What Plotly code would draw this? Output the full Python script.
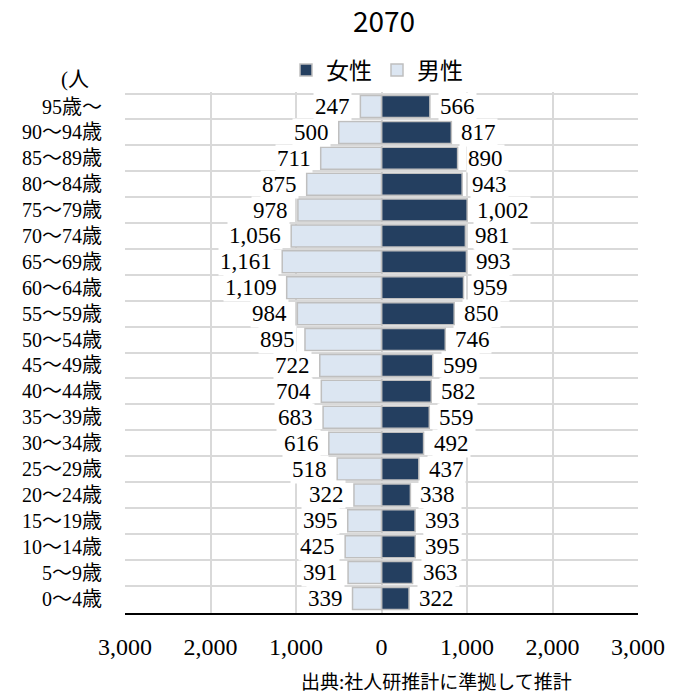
import plotly.graph_objects as go

ages = ["95歳～", "90～94歳", "85～89歳", "80～84歳", "75～79歳", "70～74歳",
        "65～69歳", "60～64歳", "55～59歳", "50～54歳", "45～49歳", "40～44歳",
        "35～39歳", "30～34歳", "25～29歳", "20～24歳", "15～19歳", "10～14歳",
        "5～9歳", "0～4歳"]
male = [247, 500, 711, 875, 978, 1056, 1161, 1109, 984, 895,
        722, 704, 683, 616, 518, 322, 395, 425, 391, 339]
female = [566, 817, 890, 943, 1002, 981, 993, 959, 850, 746,
          599, 582, 559, 492, 437, 338, 393, 395, 363, 322]
tick_vals = [-3000, -2000, -1000, 0, 1000, 2000, 3000]
tick_text = ["3,000", "2,000", "1,000", "0", "1,000", "2,000", "3,000"]

SERIF = "Liberation Serif, Noto Sans CJK JP, serif"
NUM = "Liberation Serif"
SANS = "Noto Sans CJK JP, sans-serif"
NARROW = "Liberation Sans Narrow, Noto Sans CJK JP, sans-serif"

fig = go.Figure()
fig.add_trace(go.Bar(
    y=ages, x=female, orientation="h", name="女性",
    marker=dict(color="#243F60", line=dict(color="#BFBFBF", width=1.5)),
))
fig.add_trace(go.Bar(
    y=ages, x=[-v for v in male], orientation="h", name="男性",
    marker=dict(color="#DCE6F2", line=dict(color="#BFBFBF", width=1.5)),
))

anns = []
for a, v in zip(ages, male):
    anns.append(dict(x=-v, y=a, xref="x", yref="y", text=f"{v:,}", showarrow=False,
                     xanchor="right", xshift=-8, bgcolor="white", borderpad=1,
                     font=dict(family=NUM, size=23, color="black")))
for a, v in zip(ages, female):
    anns.append(dict(x=v, y=a, xref="x", yref="y", text=f"{v:,}", showarrow=False,
                     xanchor="left", xshift=8, bgcolor="white", borderpad=1,
                     font=dict(family=NUM, size=23, color="black")))

L, R, T, B = 125, 46, 92, 80
W, H = 684, 693
pw, ph = W - L - R, H - T - B

def px(xp, yp):
    return (xp - L) / pw, 1 - (yp - T) / ph

x1, y1 = px(75, 79)
anns.append(dict(x=x1, y=y1, xref="paper", yref="paper", text="(人", showarrow=False,
                 xanchor="center", yanchor="middle",
                 font=dict(family=SERIF, size=21, color="black")))
x2, y2 = px(436, 680)
anns.append(dict(x=x2, y=y2, xref="paper", yref="paper", text="出典:社人研推計に準拠して推計",
                 showarrow=False, xanchor="center", yanchor="middle",
                 font=dict(family=SANS, size=19, color="black")))

fig.update_layout(
    width=W, height=H,
    margin=dict(l=L, r=R, t=T, b=B, autoexpand=False),
    paper_bgcolor="white", plot_bgcolor="white",
    barmode="relative", bargap=0.15,
    title=dict(text="2070", x=384 / W, xanchor="center", y=1 - 22 / H, yanchor="middle",
               font=dict(family=NARROW, size=28, color="black")),
    legend=dict(orientation="h", x=(377 - L) / pw, xanchor="center",
                y=1 + (T - 70) / ph, yanchor="middle",
                font=dict(family=SANS, size=23, color="black"), traceorder="normal",
                itemwidth=30),
    showlegend=True,
    annotations=anns,
    xaxis=dict(range=[-3000, 3000], tickvals=tick_vals, ticktext=tick_text,
               showgrid=True, gridcolor="#D9D9D9", gridwidth=1.5, zeroline=False,
               showline=True, linecolor="black", linewidth=2, automargin=False,
               ticks="", ticklabelstandoff=11,
               tickfont=dict(family=NUM, size=24, color="black")),
    yaxis=dict(type="category", autorange="reversed", tickson="boundaries",
               showgrid=True, gridcolor="#D9D9D9", gridwidth=1.5, automargin=False,
               ticks="", showline=False, ticklabelstandoff=22,
               tickfont=dict(family=SERIF, size=20, color="black")),
)

fig.write_html("out.html", config={"displayModeBar": False},
               post_script="document.body.style.margin='0px';")
